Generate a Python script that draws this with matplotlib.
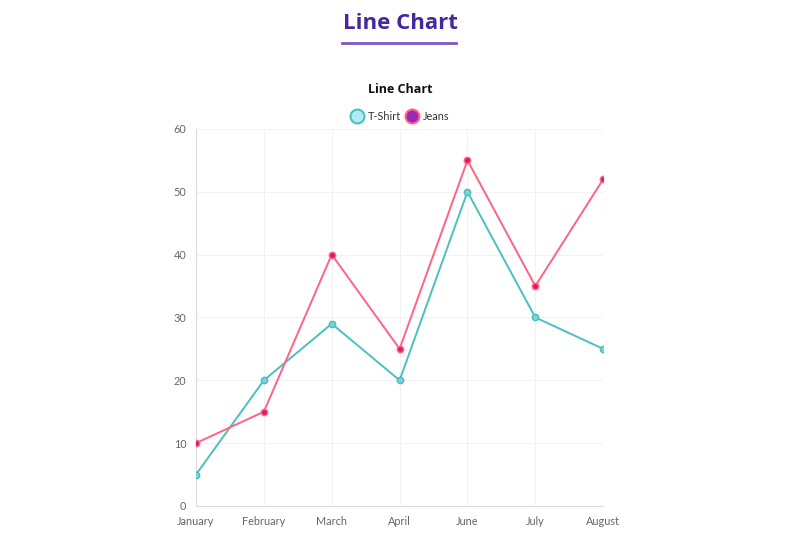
import matplotlib.pyplot as plt
from matplotlib.lines import Line2D

months = ["January", "February", "March", "April", "June", "July", "August"]
tshirt = [5, 20, 29, 20, 50, 30, 25]
jeans = [10, 15, 40, 25, 55, 35, 52]
yticks = [0, 10, 20, 30, 40, 50, 60]

fig = plt.figure(figsize=(8, 5.44), dpi=100)
ax = fig.add_axes([0.245, 0.0699, 0.509, 0.6931])

x = list(range(len(months)))
ax.plot(x, tshirt, color="#4bc0c0", lw=1.4, marker="o", ms=4.5,
        mfc="#7fd3d8", mec="#4bc0c0", mew=1.1, zorder=3)
ax.plot(x, jeans, color="#ff6384", lw=1.4, marker="o", ms=4.5,
        mfc="#d81b60", mec="#ff6384", mew=1.1, zorder=3)

ax.set_xlim(0, len(months) - 1)
ax.set_ylim(0, 60)
ax.set_xticks(x)
ax.set_xticklabels(months)
ax.set_yticks(yticks)
ax.grid(True, color="#f2f2f2", lw=0.8)
ax.set_axisbelow(True)
for s in ["top", "right"]:
    ax.spines[s].set_visible(False)
for s in ["left", "bottom"]:
    ax.spines[s].set_color("#dcdcdc")
    ax.spines[s].set_linewidth(0.8)
ax.tick_params(length=0, labelsize=7.8, labelcolor="#666666", pad=7)
ax.tick_params(axis="x", pad=7)
for lbl in ax.get_xticklabels() + ax.get_yticklabels():
    lbl.set_family("Lato")

# page heading
fig.text(0.5, 0.957, "Line Chart", ha="center", va="center", fontsize=16,
         fontweight="bold", color="#4527a0", family="Open Sans")
fig.add_artist(Line2D([0.427, 0.57], [0.921, 0.921], color="#7e57c2", lw=2))

# chart title
fig.text(0.5, 0.836, "Line Chart", ha="center", va="center", fontsize=9,
         fontweight="bold", color="#111111", family="Open Sans")

handles = [
    Line2D([], [], ls="none", marker="o", ms=10, mfc="#b2ebf2", mec="#4bc0c0", mew=1.5),
    Line2D([], [], ls="none", marker="o", ms=10, mfc="#9c27b0", mec="#ff6384", mew=1.5),
]
fig.legend(handles, ["T-Shirt", "Jeans"], loc="center", bbox_to_anchor=(0.5, 0.786),
           ncol=2, frameon=False, handletextpad=0.4, columnspacing=0.4,
           handlelength=1.2, labelcolor="#333333",
           prop={"family": "Lato", "size": 7.8})

fig.savefig("out.png", dpi=100)
